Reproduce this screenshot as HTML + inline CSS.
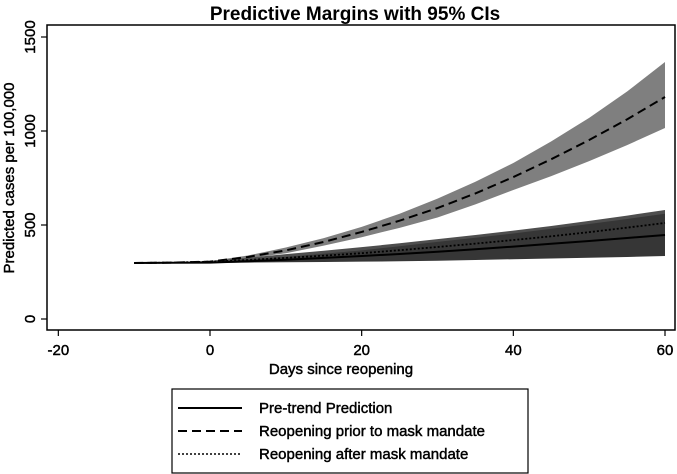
<!DOCTYPE html>
<html><head><meta charset="utf-8"><style>
html,body{margin:0;padding:0;background:#fff;}
svg{display:block;font-family:"Liberation Sans",Arial,sans-serif;}
.t{stroke:#000;stroke-width:0.45;}
</style></head><body>
<svg id="chart" width="677" height="474" viewBox="0 0 677 474">
<text x="355" y="20" text-anchor="middle" font-size="19" font-weight="bold">Predictive Margins with 95% CIs</text>
<g id="plot"></g>
<rect x="47" y="25" width="628" height="305" fill="none" stroke="#000" stroke-width="1.5"/>
<g id="axes"></g>
<text class="t" x="341" y="374" text-anchor="middle" font-size="15">Days since reopening</text>
<text class="t" transform="translate(14,178) rotate(-90)" text-anchor="middle" font-size="15">Predicted cases per 100,000</text>
<g>
<rect x="172" y="389" width="356" height="84" fill="#fff" stroke="#000" stroke-width="1.2"/>
<line x1="178" y1="408" x2="242" y2="408" stroke="#000" stroke-width="2"/>
<text class="t" x="259" y="413" font-size="15">Pre-trend Prediction</text>
<line x1="178" y1="431" x2="242" y2="431" stroke="#000" stroke-width="2" stroke-dasharray="9,5"/>
<text class="t" x="259" y="436" font-size="15">Reopening prior to mask mandate</text>
<line x1="178" y1="454" x2="242" y2="454" stroke="#000" stroke-width="1.5" stroke-dasharray="2,2"/>
<text class="t" x="259" y="459" font-size="15">Reopening after mask mandate</text>
</g>
</svg>
<script>
const days = [-10, -5, 0, 5, 10, 15, 20, 25, 30, 35, 40, 45, 50, 55, 60];
const preTrend = [298, 299, 300, 307, 315, 325, 335, 346, 358, 371, 385, 400, 415, 431, 447];
const preLo = [296, 297, 298, 300, 302, 303, 305, 307, 310, 314, 318, 322, 326, 330, 335];
const preHi = [300, 301, 303, 316, 330, 347, 365, 387, 410, 432, 455, 480, 505, 532, 560];
const priorMandate = [298, 300, 305, 330, 365, 410, 463, 523, 590, 668, 755, 850, 952, 1062, 1181];
const priorLo = [296, 298, 302, 323, 350, 390, 435, 485, 540, 610, 686, 760, 840, 925, 1016];
const priorHi = [300, 302, 308, 338, 380, 430, 490, 560, 640, 730, 830, 945, 1070, 1210, 1367];
const afterMandate = [298, 300, 305, 314, 325, 337, 350, 366, 383, 401, 420, 440, 462, 486, 511];
const afterLo = [296, 298, 301, 304, 308, 313, 318, 324, 330, 337, 345, 352, 360, 369, 378];
const afterHi = [300, 302, 309, 326, 345, 363, 382, 403, 425, 447, 470, 495, 522, 550, 580];
const xTicks = [-20, 0, 20, 40, 60];
const yTicks = [0, 500, 1000, 1500];

const X = d => 210 + (d - 0) * (665 - 210) / 60;
const Y = v => 319 - v * (319 - 37) / 1500;
const NS = 'http://www.w3.org/2000/svg';
const plot = document.getElementById('plot');
const axes = document.getElementById('axes');
function mk(tag, attrs, parent){const e=document.createElementNS(NS,tag);for(const k in attrs)e.setAttribute(k,attrs[k]);parent.appendChild(e);return e;}
function band(lo, hi, fill, name){
  let d = days.map((t,i)=>(i?'L':'M')+X(t)+','+Y(hi[i])).join('');
  for(let i=days.length-1;i>=0;i--) d+='L'+X(days[i])+','+Y(lo[i]);
  const p = mk('path',{d:d+'Z',fill:fill},plot);
  
  
}
function line(vals, dash, w, name){
  const p = mk('path',{d:days.map((t,i)=>(i?'L':'M')+X(t)+','+Y(vals[i])).join(''),fill:'none',stroke:'#000','stroke-width':w,'stroke-dasharray':dash},plot);
  
  
}
band(priorLo, priorHi, '#7f7f7f', 'ci-band-prior-mandate');
band(afterLo, afterHi, '#4e4e4e', 'ci-band-after-mandate');
band(preLo, preHi, '#363636', 'ci-band-pretrend');
line(preTrend, 'none', 2, 'line-pretrend');
line(afterMandate, '2,2', 1.8, 'line-after-mandate');
line(priorMandate, '9,5', 2, 'line-prior-mandate');
xTicks.forEach(t=>{
  const l = mk('line',{x1:X(t),x2:X(t),y1:330,y2:336,stroke:'#000','stroke-width':1.2},axes);
  
  
  const tx = mk('text',{x:X(t),y:355,'text-anchor':'middle','font-size':15,'class':'t'},axes);
  tx.textContent = t;
  
  
});
yTicks.forEach(v=>{
  const l = mk('line',{x1:41,x2:47,y1:Y(v),y2:Y(v),stroke:'#000','stroke-width':1.2},axes);
  
  
  const tx = mk('text',{transform:'translate(35,'+Y(v)+') rotate(-90)','text-anchor':'middle','font-size':15,'class':'t'},axes);
  tx.textContent = v;
  
  
});
</script>
</body></html>
